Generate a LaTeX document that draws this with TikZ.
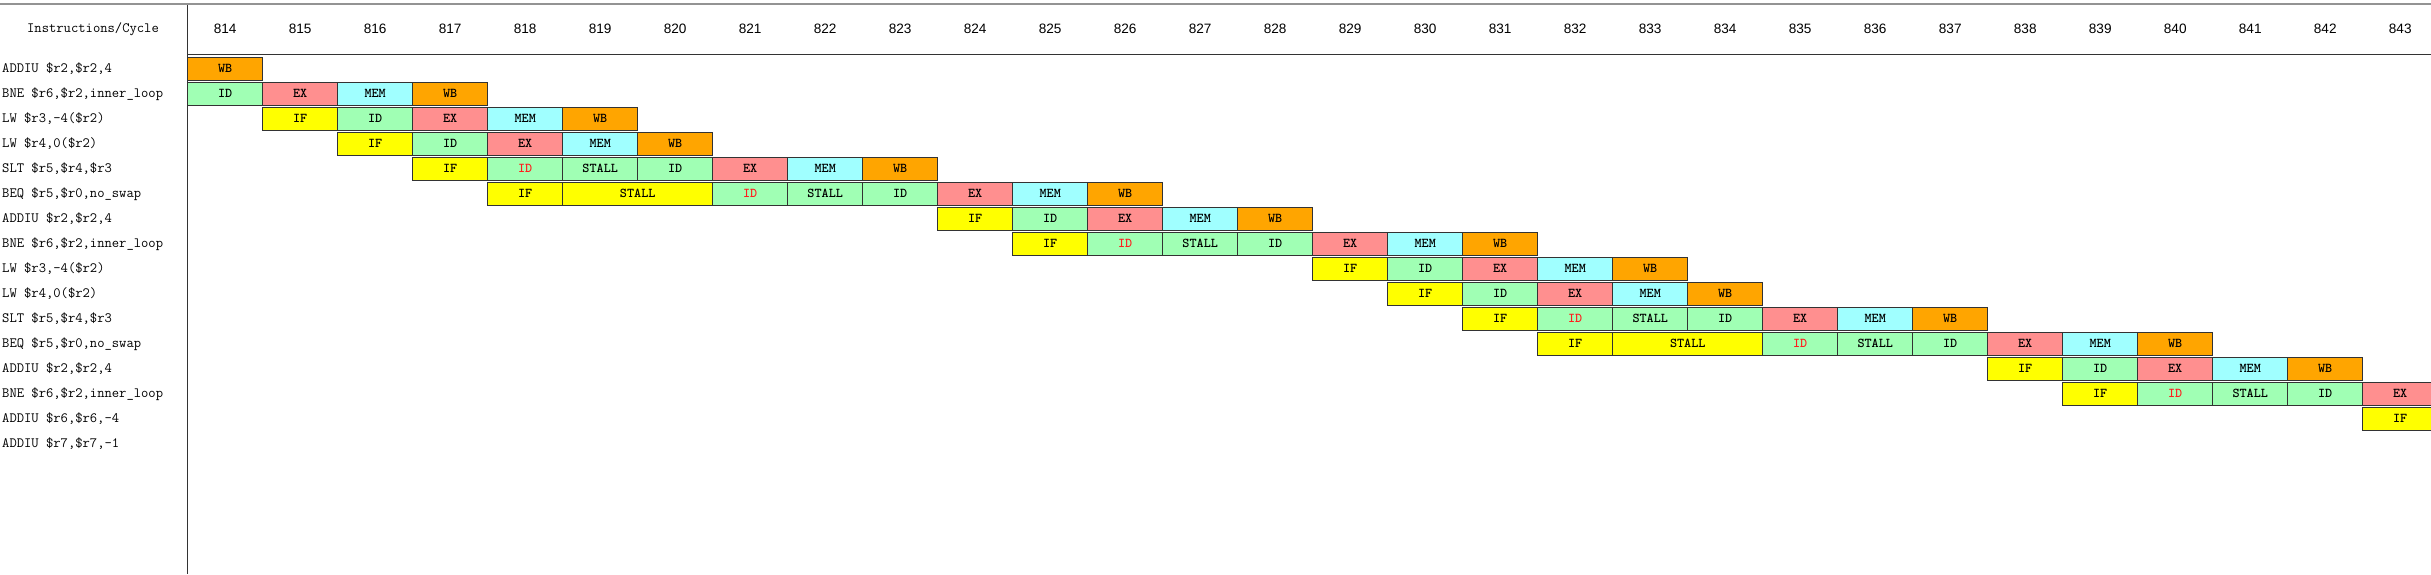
\documentclass[tikz,border=0pt]{standalone}
\usepackage{fontspec}
\newfontfamily\numfont{Liberation Sans}
\definecolor{wbcol}{HTML}{FFA500}
\definecolor{idcol}{HTML}{A0FFB4}
\definecolor{excol}{HTML}{FF8F8F}
\definecolor{memcol}{HTML}{A0FFFF}
\definecolor{ifcol}{HTML}{FFFF00}
\definecolor{edgecol}{HTML}{333333}
\definecolor{redtxt}{HTML}{FF1E1E}
\tikzset{
  cellbox/.style={draw=edgecol, line width=1.2pt, rectangle, inner sep=0pt,
    minimum height=23pt, font=\fontsize{13.5}{13.5}\selectfont\ttfamily\bfseries, text=black},
  wbbox/.style={cellbox, fill=wbcol},
  idbox/.style={cellbox, fill=idcol},
  idred/.style={cellbox, fill=idcol, text=redtxt},
  exbox/.style={cellbox, fill=excol},
  membox/.style={cellbox, fill=memcol},
  ifbox/.style={cellbox, fill=ifcol},
  lbl/.style={anchor=west, inner sep=0pt, font=\fontsize{14.2}{14.2}\selectfont\ttfamily},
  hdr/.style={inner sep=0pt, font=\fontsize{13.6}{13.6}\selectfont\numfont},
  rule/.style={draw=edgecol, line width=1.5pt},
  topline/.style={draw=gray!85, line width=2pt}
}
\newcommand\cell[5]{\node[#4, minimum width={#3*75pt}] (c#1-#2) at ({225.2+75*(#2-814)+37.5*(#3-1)}, {68.8+25*#1}) {#5};}
\begin{document}
\begin{tikzpicture}[x=1pt, y=-1pt]
\clip (0,0) rectangle (2431,574);
\fill[white] (0,0) rectangle (2431,574);
% frame lines
\coordinate (tl) at (0,4);
\coordinate (tr) at (2431,4);
\coordinate (vt) at (187.7,5);
\coordinate (vb) at (187.7,574);
\coordinate (hl) at (187.7,54.5);
\coordinate (hr) at (2431,54.5);
\draw[topline] (tl) -- (tr);
\draw[rule] (vt) -- (vb);
\draw[rule] (hl) -- (hr);
% header
\node[lbl, anchor=center] (hdrlabel) at (93,29) {Instructions/Cycle};
\foreach \c in {814,...,843} {
  \node[hdr] (h\c) at ({225.2+75*(\c-814)}, 29) {\c};
}
% instruction labels
\foreach \r/\t in {0/{ADDIU \$r2,\$r2,4},1/{BNE \$r6,\$r2,inner\_loop},2/{LW \$r3,-4(\$r2)},3/{LW \$r4,0(\$r2)},4/{SLT \$r5,\$r4,\$r3},5/{BEQ \$r5,\$r0,no\_swap},6/{ADDIU \$r2,\$r2,4},7/{BNE \$r6,\$r2,inner\_loop},8/{LW \$r3,-4(\$r2)},9/{LW \$r4,0(\$r2)},10/{SLT \$r5,\$r4,\$r3},11/{BEQ \$r5,\$r0,no\_swap},12/{ADDIU \$r2,\$r2,4},13/{BNE \$r6,\$r2,inner\_loop},14/{ADDIU \$r6,\$r6,-4},15/{ADDIU \$r7,\$r7,-1}} {
  \node[lbl] (l\r) at (2, {68.8+25*\r}) {\t};
}
% row 0
\cell{0}{814}{1}{wbbox}{WB}
% row 1
\cell{1}{814}{1}{idbox}{ID}
\cell{1}{815}{1}{exbox}{EX}
\cell{1}{816}{1}{membox}{MEM}
\cell{1}{817}{1}{wbbox}{WB}
% row 2
\cell{2}{815}{1}{ifbox}{IF}
\cell{2}{816}{1}{idbox}{ID}
\cell{2}{817}{1}{exbox}{EX}
\cell{2}{818}{1}{membox}{MEM}
\cell{2}{819}{1}{wbbox}{WB}
% row 3
\cell{3}{816}{1}{ifbox}{IF}
\cell{3}{817}{1}{idbox}{ID}
\cell{3}{818}{1}{exbox}{EX}
\cell{3}{819}{1}{membox}{MEM}
\cell{3}{820}{1}{wbbox}{WB}
% row 4
\cell{4}{817}{1}{ifbox}{IF}
\cell{4}{818}{1}{idred}{ID}
\cell{4}{819}{1}{idbox}{STALL}
\cell{4}{820}{1}{idbox}{ID}
\cell{4}{821}{1}{exbox}{EX}
\cell{4}{822}{1}{membox}{MEM}
\cell{4}{823}{1}{wbbox}{WB}
% row 5
\cell{5}{818}{1}{ifbox}{IF}
\cell{5}{819}{2}{ifbox}{STALL}
\cell{5}{821}{1}{idred}{ID}
\cell{5}{822}{1}{idbox}{STALL}
\cell{5}{823}{1}{idbox}{ID}
\cell{5}{824}{1}{exbox}{EX}
\cell{5}{825}{1}{membox}{MEM}
\cell{5}{826}{1}{wbbox}{WB}
% row 6
\cell{6}{824}{1}{ifbox}{IF}
\cell{6}{825}{1}{idbox}{ID}
\cell{6}{826}{1}{exbox}{EX}
\cell{6}{827}{1}{membox}{MEM}
\cell{6}{828}{1}{wbbox}{WB}
% row 7
\cell{7}{825}{1}{ifbox}{IF}
\cell{7}{826}{1}{idred}{ID}
\cell{7}{827}{1}{idbox}{STALL}
\cell{7}{828}{1}{idbox}{ID}
\cell{7}{829}{1}{exbox}{EX}
\cell{7}{830}{1}{membox}{MEM}
\cell{7}{831}{1}{wbbox}{WB}
% row 8
\cell{8}{829}{1}{ifbox}{IF}
\cell{8}{830}{1}{idbox}{ID}
\cell{8}{831}{1}{exbox}{EX}
\cell{8}{832}{1}{membox}{MEM}
\cell{8}{833}{1}{wbbox}{WB}
% row 9
\cell{9}{830}{1}{ifbox}{IF}
\cell{9}{831}{1}{idbox}{ID}
\cell{9}{832}{1}{exbox}{EX}
\cell{9}{833}{1}{membox}{MEM}
\cell{9}{834}{1}{wbbox}{WB}
% row 10
\cell{10}{831}{1}{ifbox}{IF}
\cell{10}{832}{1}{idred}{ID}
\cell{10}{833}{1}{idbox}{STALL}
\cell{10}{834}{1}{idbox}{ID}
\cell{10}{835}{1}{exbox}{EX}
\cell{10}{836}{1}{membox}{MEM}
\cell{10}{837}{1}{wbbox}{WB}
% row 11
\cell{11}{832}{1}{ifbox}{IF}
\cell{11}{833}{2}{ifbox}{STALL}
\cell{11}{835}{1}{idred}{ID}
\cell{11}{836}{1}{idbox}{STALL}
\cell{11}{837}{1}{idbox}{ID}
\cell{11}{838}{1}{exbox}{EX}
\cell{11}{839}{1}{membox}{MEM}
\cell{11}{840}{1}{wbbox}{WB}
% row 12
\cell{12}{838}{1}{ifbox}{IF}
\cell{12}{839}{1}{idbox}{ID}
\cell{12}{840}{1}{exbox}{EX}
\cell{12}{841}{1}{membox}{MEM}
\cell{12}{842}{1}{wbbox}{WB}
% row 13
\cell{13}{839}{1}{ifbox}{IF}
\cell{13}{840}{1}{idred}{ID}
\cell{13}{841}{1}{idbox}{STALL}
\cell{13}{842}{1}{idbox}{ID}
\cell{13}{843}{1}{exbox}{EX}
% row 14
\cell{14}{843}{1}{ifbox}{IF}
\end{tikzpicture}
\end{document}
